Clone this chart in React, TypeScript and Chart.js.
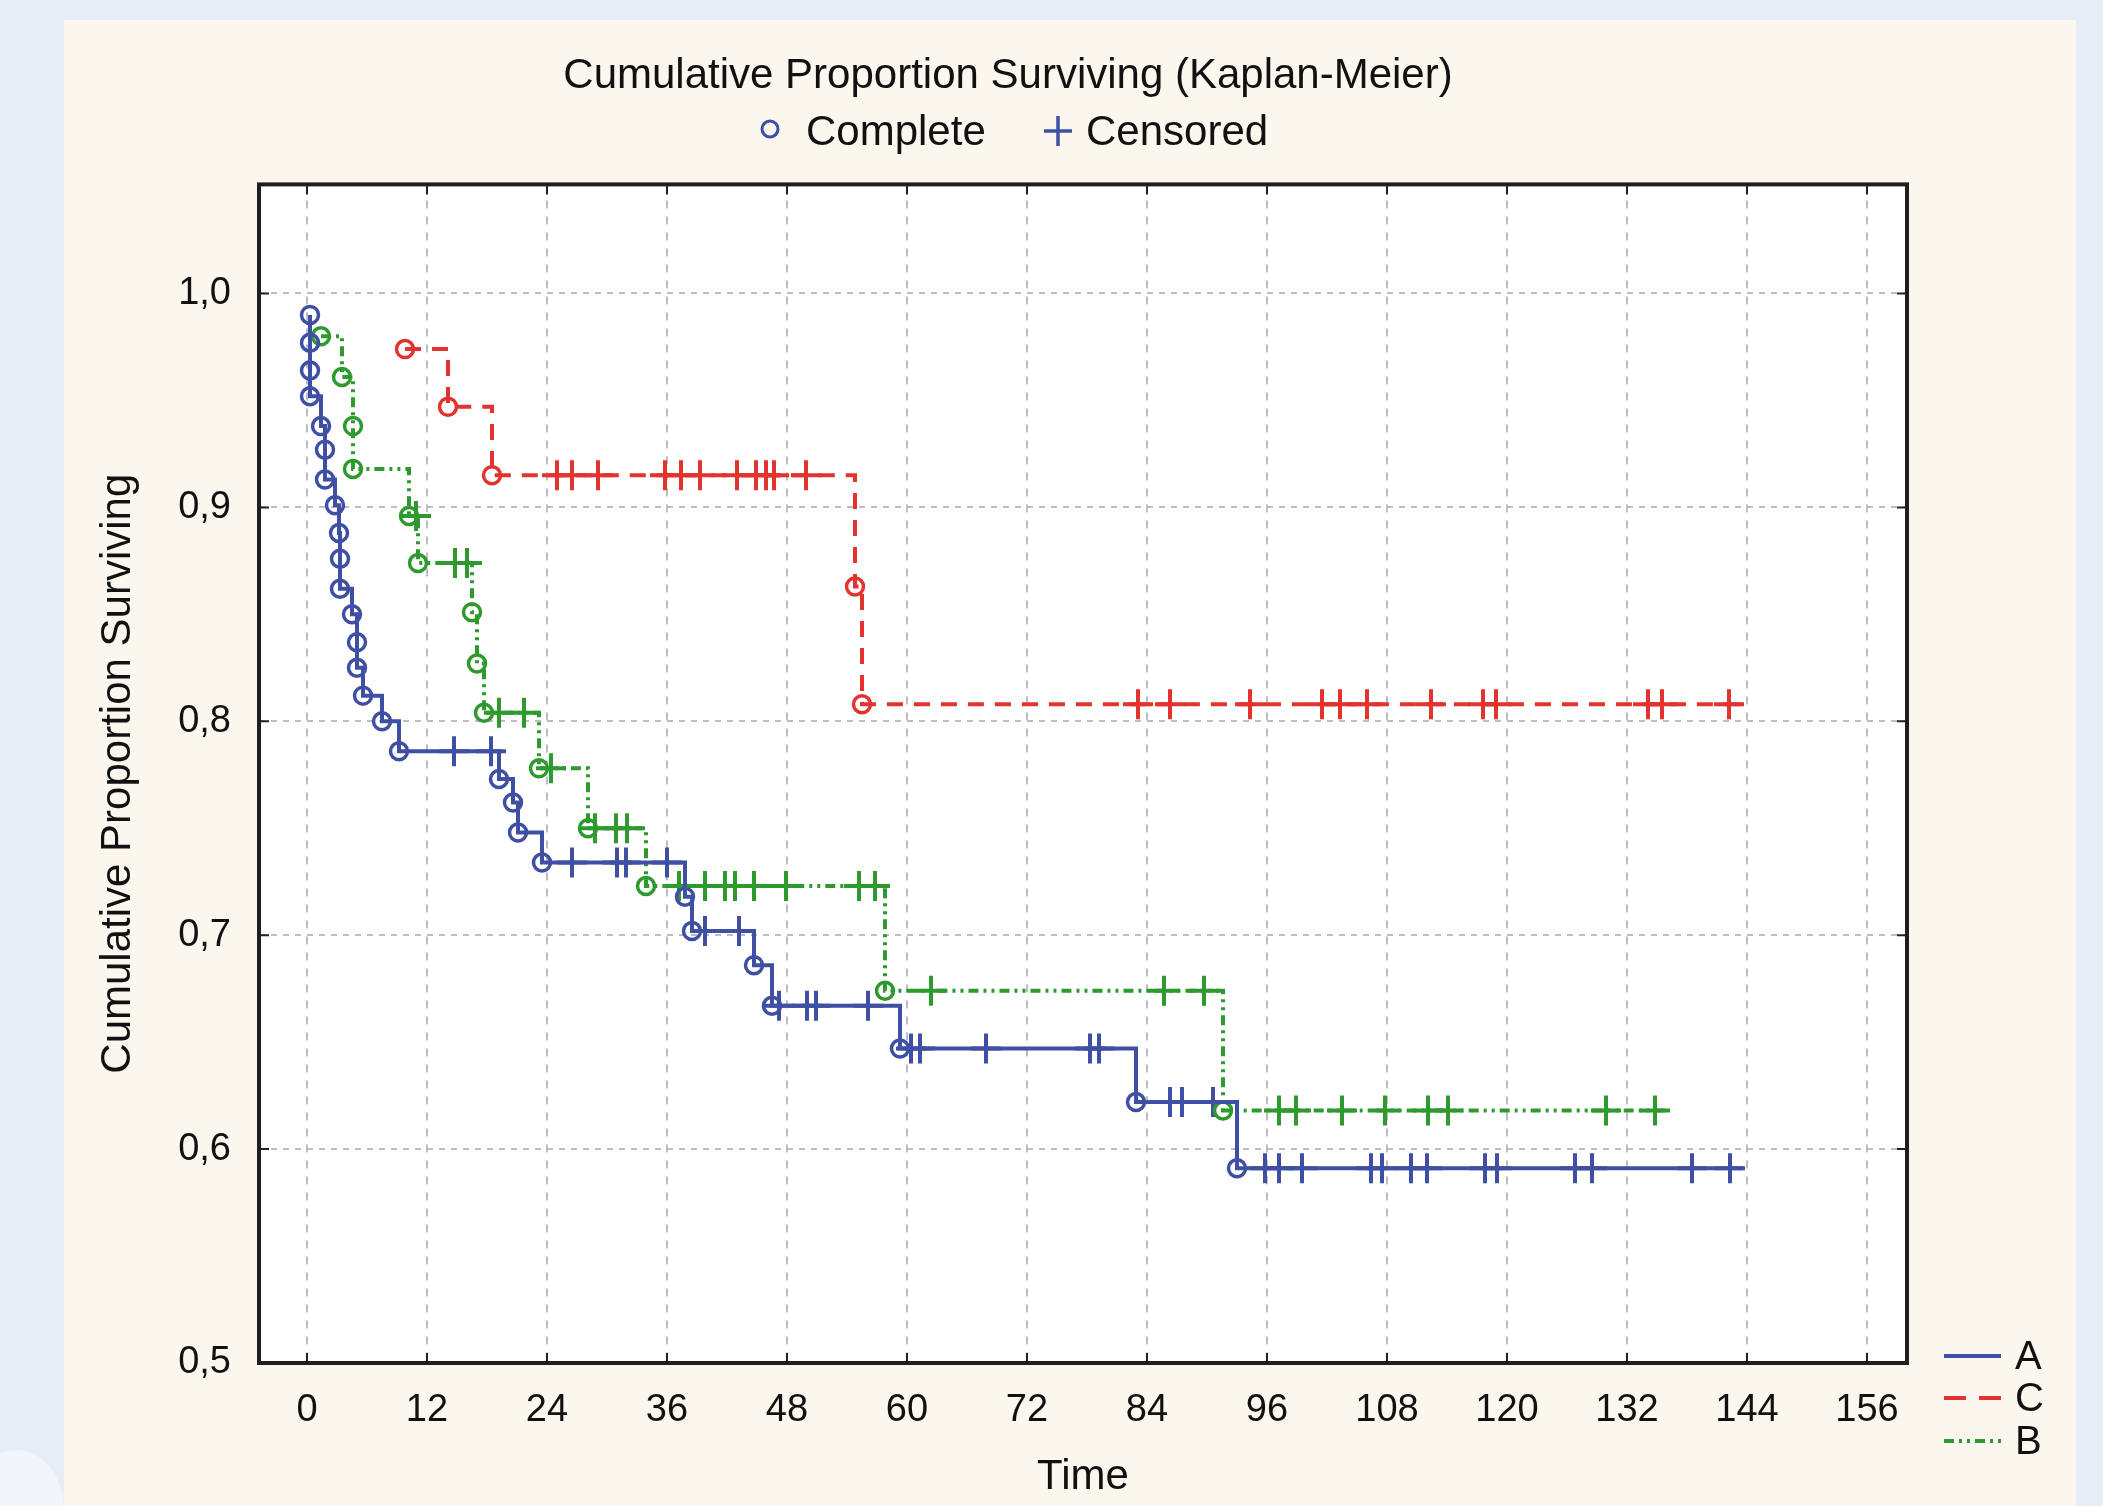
import React, { useEffect, useRef } from 'react';
import { Chart, registerables } from 'chart.js';

Chart.register(...registerables);

// ---------- data ----------
const xTicks = [0, 12, 24, 36, 48, 60, 72, 84, 96, 108, 120, 132, 144, 156];
const yTicks = [0.5, 0.6, 0.7, 0.8, 0.9, 1.0];

const groupNames = ['A', 'C', 'B'];
const markerNames = ['Complete', 'Censored'];

// Group A: event times and survival after each event
const aTimes = [0.3, 0.3, 0.3, 0.3, 1.4, 1.8, 1.8, 2.8, 3.2, 3.3, 3.3, 4.5, 5.0, 5.0, 5.6, 7.5, 9.2, 19.2, 20.6, 21.1, 23.5, 37.8, 38.5, 44.7, 46.5, 59.3, 82.9, 93.0];
const aSurv = [0.990, 0.977, 0.964, 0.952, 0.938, 0.927, 0.913, 0.901, 0.888, 0.876, 0.862, 0.850, 0.837, 0.825, 0.812, 0.800, 0.786, 0.773, 0.762, 0.748, 0.734, 0.718, 0.702, 0.686, 0.667, 0.647, 0.622, 0.591];
const aCensored = [14.7, 18.4, 26.5, 31.0, 31.9, 36.0, 39.8, 43.2, 47.2, 50.0, 50.9, 56.1, 60.4, 61.3, 67.9, 78.3, 79.2, 86.3, 87.5, 90.6, 95.8, 97.2, 99.5, 106.4, 107.5, 110.4, 112.0, 117.8, 119.0, 126.8, 128.5, 138.5, 142.3];
const aEnd = 143.6;

// Group C
const cTimes = [9.8, 14.1, 18.5, 54.8, 55.5];
const cSurv = [0.974, 0.947, 0.915, 0.863, 0.808];
const cCensored = [25.0, 26.5, 29.1, 35.8, 37.4, 39.3, 43.0, 44.9, 45.9, 46.7, 49.9, 83.1, 86.3, 94.3, 101.5, 103.3, 106.0, 112.4, 117.6, 118.9, 134.1, 135.5, 142.2];
const cEnd = 143.6;

// Group B
const bTimes = [1.4, 3.5, 4.6, 4.6, 10.2, 11.1, 16.5, 17.0, 17.7, 23.2, 28.1, 33.9, 57.8, 91.6];
const bSurv = [0.980, 0.961, 0.938, 0.918, 0.896, 0.874, 0.851, 0.827, 0.804, 0.778, 0.750, 0.723, 0.674, 0.618];
const bCensored = [10.9, 14.8, 16.0, 19.2, 21.7, 24.4, 28.8, 30.9, 32.0, 37.2, 39.8, 41.8, 42.8, 44.7, 47.9, 55.2, 56.8, 62.4, 85.7, 89.7, 97.2, 98.9, 103.5, 107.8, 112.1, 114.1, 129.9, 134.8];
const bEnd = 136.2;

// ---------- styles ----------
const BLUE = '#3F4FA3';
const RED = '#E2332F';
const GREEN = '#2E9A2E';
const FONT = "'Liberation Sans', Arial, sans-serif";
const DASH_C = [16, 11];
const DASH_B = [10, 5, 3, 5, 3, 5];

const stepData = (times: number[], surv: number[], end: number) => {
  const pts = times.map((t, i) => ({ x: t, y: surv[i] }));
  pts.push({ x: end, y: surv[surv.length - 1] });
  return pts;
};
const levelAt = (times: number[], surv: number[], t: number) => {
  let v = surv[0];
  for (let i = 0; i < times.length; i++) if (times[i] <= t) v = surv[i];
  return v;
};
const eventPts = (times: number[], surv: number[]) => times.map((t, i) => ({ x: t, y: surv[i] }));
const censorPts = (cens: number[], times: number[], surv: number[]) =>
  cens.map((t) => ({ x: t, y: levelAt(times, surv, t) }));

const lineDs = (label: string, data: any[], color: string, dash: number[]) => ({
  label,
  data,
  borderColor: color,
  borderWidth: 4,
  borderDash: dash,
  stepped: true,
  pointRadius: 0,
  fill: false,
  tension: 0,
});
const completeDs = (label: string, data: any[], color: string) => ({
  label,
  data,
  showLine: false,
  pointStyle: 'circle',
  pointRadius: 8.5,
  pointBorderWidth: 3.5,
  pointBorderColor: color,
  pointBackgroundColor: 'rgba(255,255,255,0)',
});
const censorDs = (label: string, data: any[], color: string) => ({
  label,
  data,
  showLine: false,
  pointStyle: 'cross',
  pointRadius: 15,
  pointBorderWidth: 4,
  pointBorderColor: color,
});

const decorPlugin = {
  id: 'decor',
  beforeDraw(chart: any) {
    const { ctx, chartArea: a } = chart;
    ctx.save();
    ctx.fillStyle = '#FFFFFF';
    ctx.fillRect(a.left, a.top, a.right - a.left, a.bottom - a.top);
    ctx.restore();
  },
  afterDraw(chart: any) {
    const { ctx, chartArea: a, scales } = chart;
    ctx.save();
    // inward tick marks
    ctx.strokeStyle = '#222';
    ctx.lineWidth = 2;
    xTicks.forEach((t) => {
      const px = scales.x.getPixelForValue(t);
      ctx.beginPath();
      ctx.moveTo(px, a.bottom);
      ctx.lineTo(px, a.bottom - 10);
      ctx.moveTo(px, a.top);
      ctx.lineTo(px, a.top + 10);
      ctx.stroke();
    });
    yTicks.forEach((v) => {
      const py = scales.y.getPixelForValue(v);
      ctx.beginPath();
      ctx.moveTo(a.left, py);
      ctx.lineTo(a.left + 10, py);
      ctx.moveTo(a.right, py);
      ctx.lineTo(a.right - 10, py);
      ctx.stroke();
    });
    // frame
    ctx.strokeStyle = '#1E1E1E';
    ctx.lineWidth = 4;
    ctx.strokeRect(a.left, a.top, a.right - a.left, a.bottom - a.top);

    // top legend: marker kinds
    ctx.fillStyle = '#111';
    ctx.font = `42px ${FONT}`;
    ctx.textBaseline = 'middle';
    ctx.textAlign = 'left';
    ctx.strokeStyle = BLUE;
    ctx.lineWidth = 3;
    ctx.beginPath();
    ctx.arc(770, 129, 8, 0, Math.PI * 2);
    ctx.stroke();
    ctx.fillText(markerNames[0], 806, 133);
    ctx.lineWidth = 3.5;
    ctx.beginPath();
    ctx.moveTo(1058, 116);
    ctx.lineTo(1058, 146);
    ctx.moveTo(1044, 131);
    ctx.lineTo(1072, 131);
    ctx.stroke();
    ctx.fillText(markerNames[1], 1086, 133);

    // right legend: groups
    const items = [
      { name: groupNames[0], color: BLUE, dash: [] as number[], y: 1356 },
      { name: groupNames[1], color: RED, dash: [22, 13], y: 1398 },
      { name: groupNames[2], color: GREEN, dash: DASH_B, y: 1441 },
    ];
    items.forEach((it) => {
      ctx.strokeStyle = it.color;
      ctx.lineWidth = 4;
      ctx.setLineDash(it.dash);
      ctx.beginPath();
      ctx.moveTo(1944, it.y);
      ctx.lineTo(2001, it.y);
      ctx.stroke();
      ctx.setLineDash([]);
      ctx.fillStyle = '#111';
      ctx.font = `40px ${FONT}`;
      ctx.fillText(it.name, 2015, it.y + 2);
    });
    ctx.restore();
  },
};

export default function App() {
  const ref = useRef<HTMLCanvasElement | null>(null);

  useEffect(() => {
    if (!ref.current) return;
    Chart.defaults.font.family = FONT;
    Chart.defaults.color = '#111';
    const chart = new Chart(ref.current, {
      type: 'line',
      data: {
        datasets: [
          lineDs('A', stepData(aTimes, aSurv, aEnd), BLUE, []),
          lineDs('C', stepData(cTimes, cSurv, cEnd), RED, DASH_C),
          lineDs('B', stepData(bTimes, bSurv, bEnd), GREEN, DASH_B),
          completeDs('A complete', eventPts(aTimes, aSurv), BLUE),
          completeDs('C complete', eventPts(cTimes, cSurv), RED),
          completeDs('B complete', eventPts(bTimes, bSurv), GREEN),
          censorDs('A censored', censorPts(aCensored, aTimes, aSurv), BLUE),
          censorDs('C censored', censorPts(cCensored, cTimes, cSurv), RED),
          censorDs('B censored', censorPts(bCensored, bTimes, bSurv), GREEN),
        ] as any,
      },
      options: {
        responsive: false,
        animation: false,
        devicePixelRatio: 1,
        events: [],
        layout: { padding: { left: 0, right: 87, top: 0, bottom: 0 } },
        plugins: {
          legend: { display: false },
          tooltip: { enabled: false },
          title: {
            display: true,
            text: 'Cumulative Proportion Surviving (Kaplan-Meier)',
            color: '#111',
            font: { size: 42, weight: 'normal', family: FONT, lineHeight: 1.2 },
            padding: { top: 51, bottom: 83 },
          },
        },
        scales: {
          x: {
            type: 'linear',
            min: -4.8,
            max: 160,
            afterBuildTicks: (s: any) => {
              s.ticks = xTicks.map((v) => ({ value: v }));
            },
            afterFit: (s: any) => {
              s.height = 143;
            },
            ticks: { font: { size: 38, family: FONT }, padding: 25, color: '#111', maxRotation: 0 },
            grid: { color: '#BBBEC7', lineWidth: 2, drawTicks: false },
            border: { display: false, dash: [8, 8] },
            title: {
              display: true,
              text: 'Time',
              color: '#111',
              font: { size: 42, family: FONT, lineHeight: 1.2 },
              padding: { top: 0, bottom: 3 },
            },
          },
          y: {
            type: 'linear',
            min: 0.5,
            max: 1.051,
            afterBuildTicks: (s: any) => {
              s.ticks = yTicks.map((v) => ({ value: v }));
            },
            afterFit: (s: any) => {
              s.width = 259;
            },
            ticks: {
              font: { size: 38, family: FONT },
              padding: 28,
              color: '#111',
              callback: (v: any) => Number(v).toFixed(1).replace('.', ','),
            },
            grid: { color: '#BBBEC7', lineWidth: 2, drawTicks: false },
            border: { display: false, dash: [6, 6] },
            title: {
              display: true,
              text: 'Cumulative Proportion Surviving',
              color: '#111',
              font: { size: 42, family: FONT, lineHeight: 1.2 },
              padding: { top: 93, bottom: 0 },
            },
          },
          y2: {
            type: 'linear',
            position: 'right',
            display: true,
            afterFit: (s: any) => {
              s.width = 109;
            },
            ticks: { display: false },
            grid: { display: false, drawTicks: false },
            border: { display: false },
          },
        },
      } as any,
      plugins: [decorPlugin],
    });
    return () => chart.destroy();
  }, []);

  return (
    <div
      style={{
        position: 'fixed',
        left: 0,
        top: 0,
        width: 2103,
        height: 1506,
        background: '#E7EDF7',
        overflow: 'hidden',
      }}
    >
      <div
        style={{
          position: 'absolute',
          left: -30,
          top: 1450,
          width: 94,
          height: 120,
          borderRadius: '50%',
          background: '#F2F5FA',
        }}
      />
      <div
        style={{
          position: 'absolute',
          left: 64,
          top: 20,
          width: 2012,
          height: 1486,
          background: '#FBF7EF',
        }}
      />
      <canvas
        ref={ref}
        width={2103}
        height={1506}
        style={{ position: 'absolute', left: 0, top: 0, width: 2103, height: 1506 }}
      />
    </div>
  );
}
